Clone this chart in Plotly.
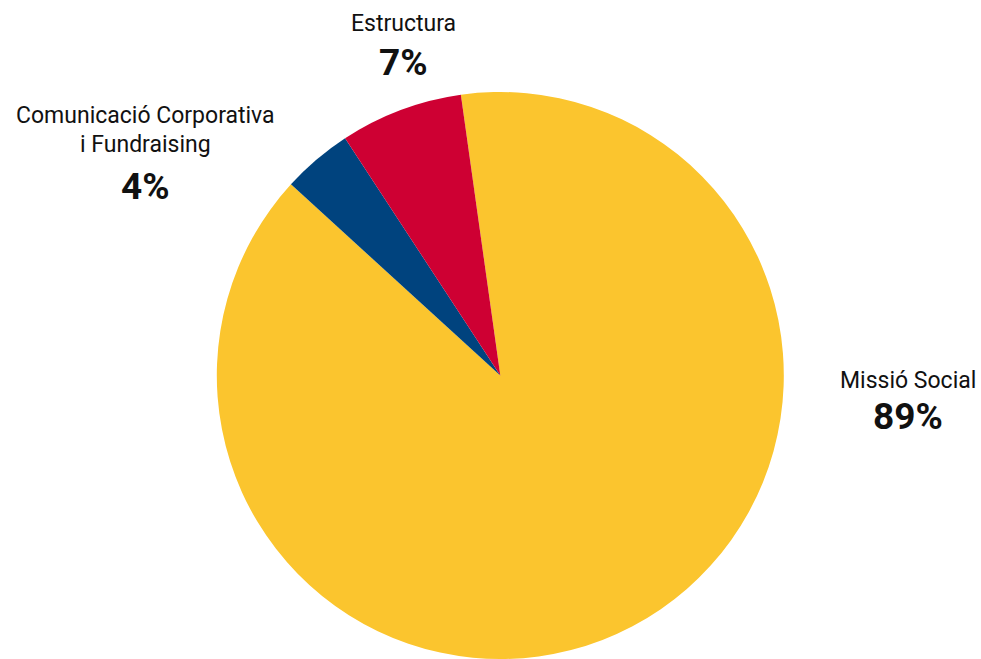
import plotly.graph_objects as go

labels = ["Missió Social", "Comunicació Corporativa<br>i Fundraising", "Estructura"]
values = [89, 4, 7]
colors = ["#FBC52E", "#00437E", "#CE0033"]
label_x = [908, 145, 403]          # label text centers (px)
label_y = [[380], [115, 144], [24]]  # per-line centers (px)
pct_y = [416, 186, 62]

W, H = 981, 659

fig = go.Figure(go.Pie(
    labels=labels,
    values=values,
    sort=False,
    direction="clockwise",
    rotation=-8,
    marker=dict(colors=colors, line=dict(width=0)),
    textinfo="none",
    hoverinfo="label+percent",
    showlegend=False,
    domain=dict(x=[0.2, 0.82], y=[0.0, 0.8604]),
))

font_reg = dict(family="Roboto", size=23, color="#111111")
font_bold = dict(family="Roboto", size=37, color="#111111")

for lab, v, cx, lys, py in zip(labels, values, label_x, label_y, pct_y):
    for line, ly in zip(lab.split("<br>"), lys):
        fig.add_annotation(x=cx / W, y=1 - ly / H, xref="paper", yref="paper",
                           text=line, showarrow=False, font=font_reg,
                           xanchor="center", yanchor="middle", align="center")
    fig.add_annotation(x=cx / W, y=1 - py / H, xref="paper", yref="paper",
                       text=f"<b>{v}%</b>", showarrow=False, font=font_bold,
                       xanchor="center", yanchor="middle")

fig.update_layout(
    width=W, height=H,
    margin=dict(l=0, r=0, t=0, b=0),
    paper_bgcolor="white", plot_bgcolor="white",
)

fig.write_html("out.html",
               config={"displayModeBar": False},
               post_script="document.body.style.margin='0';document.body.style.overflow='hidden';")
